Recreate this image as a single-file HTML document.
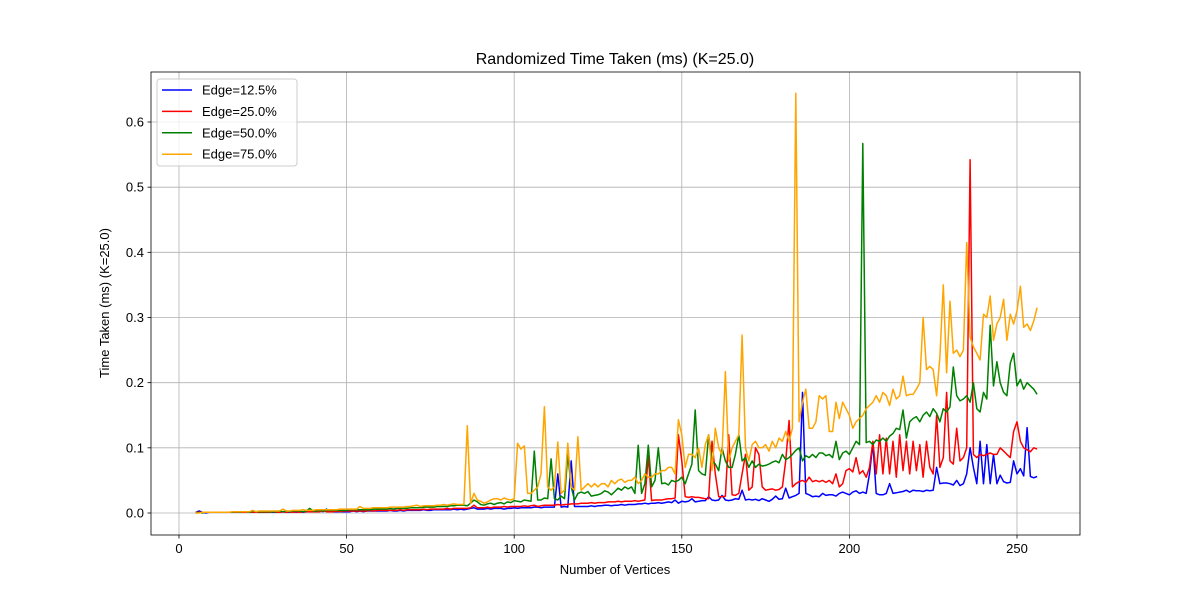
<!DOCTYPE html>
<html><head><meta charset="utf-8"><style>
body{margin:0;background:#fff}
svg{font-family:"Liberation Sans","DejaVu Sans",sans-serif}
</style></head><body>
<svg id="chart" width="1200" height="600" xmlns="http://www.w3.org/2000/svg">
<rect width="1200" height="600" fill="#fff"/>
<text x="615" y="64" text-anchor="middle" font-size="16">Randomized Time Taken (ms) (K=25.0)</text>
<g id="grid"></g><g id="series"></g><g id="axes"></g>
<text x="615" y="574" text-anchor="middle" font-size="13">Number of Vertices</text>
<text x="109" y="303" text-anchor="middle" font-size="13" transform="rotate(-90 109 303)">Time Taken (ms) (K=25.0)</text>
<g id="legend"></g>
</svg>
<script>
const xTicks=[0,50,100,150,200,250];
const yTicks=[0,0.1,0.2,0.3,0.4,0.5,0.6];
const yTickLabels=["0.0","0.1","0.2","0.3","0.4","0.5","0.6"];
const seriesNames=["Edge=12.5%","Edge=25.0%","Edge=50.0%","Edge=75.0%"];
const xStart=5;
const blue=[0.001,0.003,0.001,0.000,0.001,0.001,0.001,0.001,0.001,0.001,
0.001,0.001,0.001,0.001,0.001,0.002,0.001,0.002,0.001,0.001,
0.001,0.001,0.002,0.001,0.001,0.001,0.002,0.001,0.001,0.002,
0.001,0.002,0.001,0.002,0.002,0.002,0.002,0.003,0.002,0.006,
0.002,0.002,0.002,0.002,0.002,0.002,0.002,0.003,0.002,0.003,
0.002,0.003,0.003,0.003,0.003,0.003,0.003,0.003,0.004,0.003,
0.003,0.004,0.003,0.004,0.004,0.004,0.004,0.004,0.005,0.004,
0.004,0.005,0.005,0.005,0.005,0.005,0.005,0.006,0.005,0.006,
0.005,0.006,0.007,0.008,0.006,0.006,0.006,0.007,0.006,0.007,
0.007,0.007,0.006,0.007,0.007,0.008,0.007,0.008,0.008,0.008,
0.008,0.009,0.009,0.008,0.009,0.009,0.009,0.009,0.060,0.009,
0.010,0.009,0.080,0.010,0.010,0.010,0.010,0.010,0.011,0.010,
0.011,0.011,0.012,0.012,0.011,0.012,0.012,0.013,0.012,0.013,
0.013,0.013,0.014,0.014,0.015,0.014,0.015,0.015,0.016,0.015,
0.016,0.017,0.016,0.020,0.015,0.018,0.017,0.018,0.022,0.017,
0.018,0.019,0.019,0.025,0.020,0.019,0.020,0.027,0.020,0.019,
0.020,0.022,0.021,0.035,0.020,0.021,0.020,0.021,0.019,0.022,
0.020,0.018,0.021,0.026,0.021,0.022,0.038,0.023,0.025,0.027,
0.030,0.185,0.030,0.028,0.025,0.026,0.025,0.030,0.027,0.028,
0.028,0.026,0.030,0.032,0.030,0.028,0.032,0.034,0.030,0.032,
0.030,0.060,0.107,0.030,0.028,0.028,0.030,0.045,0.030,0.031,
0.032,0.033,0.035,0.032,0.035,0.034,0.034,0.033,0.035,0.034,
0.035,0.070,0.045,0.046,0.046,0.045,0.043,0.050,0.042,0.045,
0.060,0.100,0.070,0.045,0.110,0.045,0.105,0.045,0.090,0.045,
0.058,0.048,0.046,0.047,0.080,0.060,0.068,0.057,0.131,0.056,
0.054,0.056];
const red=[0.001,0.001,0.001,0.001,0.001,0.001,0.001,0.001,0.001,0.001,
0.001,0.001,0.001,0.001,0.001,0.001,0.002,0.001,0.001,0.001,
0.001,0.001,0.001,0.002,0.001,0.001,0.002,0.001,0.002,0.001,
0.002,0.001,0.002,0.002,0.002,0.002,0.002,0.002,0.003,0.002,
0.002,0.002,0.003,0.002,0.003,0.003,0.003,0.003,0.003,0.003,
0.003,0.003,0.004,0.003,0.004,0.004,0.004,0.004,0.004,0.004,
0.004,0.005,0.004,0.005,0.005,0.005,0.005,0.005,0.006,0.005,
0.006,0.006,0.006,0.006,0.006,0.007,0.006,0.007,0.007,0.007,
0.007,0.007,0.008,0.012,0.008,0.008,0.008,0.009,0.008,0.009,
0.009,0.009,0.010,0.009,0.010,0.010,0.010,0.010,0.011,0.010,
0.011,0.012,0.010,0.011,0.012,0.012,0.012,0.012,0.013,0.012,
0.013,0.013,0.014,0.014,0.014,0.015,0.015,0.015,0.016,0.015,
0.016,0.016,0.016,0.017,0.017,0.017,0.018,0.017,0.018,0.018,
0.018,0.019,0.018,0.019,0.020,0.088,0.019,0.020,0.020,0.020,
0.021,0.022,0.022,0.023,0.120,0.080,0.025,0.024,0.025,0.024,
0.024,0.023,0.022,0.022,0.110,0.060,0.025,0.025,0.026,0.120,
0.028,0.027,0.030,0.060,0.090,0.035,0.040,0.100,0.090,0.040,
0.035,0.036,0.037,0.035,0.036,0.040,0.080,0.142,0.040,0.045,
0.048,0.050,0.047,0.055,0.048,0.050,0.048,0.050,0.047,0.050,
0.045,0.060,0.040,0.045,0.065,0.068,0.063,0.085,0.060,0.065,
0.055,0.070,0.110,0.060,0.120,0.060,0.115,0.060,0.110,0.055,
0.120,0.065,0.110,0.060,0.110,0.065,0.105,0.055,0.110,0.070,
0.060,0.150,0.070,0.085,0.185,0.080,0.075,0.130,0.080,0.085,
0.100,0.542,0.090,0.085,0.090,0.088,0.090,0.092,0.090,0.090,
0.100,0.095,0.090,0.085,0.125,0.140,0.110,0.100,0.097,0.094,
0.100,0.098];
const green=[0.000,0.001,0.000,0.001,0.001,0.001,0.001,0.001,0.001,0.001,
0.001,0.001,0.002,0.001,0.002,0.002,0.001,0.003,0.002,0.002,
0.002,0.002,0.002,0.002,0.002,0.003,0.002,0.003,0.002,0.003,
0.003,0.003,0.002,0.003,0.007,0.003,0.003,0.004,0.003,0.004,
0.004,0.004,0.004,0.004,0.004,0.004,0.005,0.005,0.005,0.005,
0.005,0.005,0.005,0.006,0.006,0.006,0.006,0.006,0.007,0.006,
0.007,0.007,0.007,0.007,0.008,0.008,0.008,0.008,0.009,0.009,
0.009,0.009,0.010,0.010,0.010,0.010,0.011,0.011,0.012,0.012,
0.012,0.011,0.015,0.020,0.017,0.013,0.012,0.014,0.015,0.013,
0.015,0.016,0.014,0.017,0.016,0.019,0.018,0.017,0.020,0.019,
0.018,0.095,0.020,0.020,0.023,0.022,0.083,0.022,0.020,0.026,
0.022,0.090,0.040,0.020,0.030,0.032,0.030,0.033,0.026,0.027,
0.028,0.030,0.034,0.032,0.028,0.033,0.038,0.035,0.040,0.037,
0.040,0.030,0.104,0.030,0.045,0.104,0.040,0.050,0.100,0.045,
0.046,0.043,0.050,0.048,0.050,0.055,0.045,0.060,0.075,0.158,
0.065,0.060,0.058,0.120,0.080,0.075,0.065,0.100,0.080,0.070,
0.070,0.090,0.120,0.080,0.085,0.070,0.080,0.070,0.075,0.072,
0.073,0.075,0.078,0.080,0.077,0.090,0.082,0.085,0.090,0.096,
0.100,0.080,0.088,0.085,0.090,0.085,0.092,0.092,0.088,0.090,
0.085,0.110,0.082,0.092,0.095,0.090,0.100,0.110,0.105,0.567,
0.108,0.110,0.105,0.112,0.110,0.115,0.110,0.118,0.122,0.130,
0.128,0.158,0.115,0.140,0.145,0.148,0.140,0.150,0.155,0.148,
0.160,0.153,0.140,0.160,0.155,0.163,0.224,0.180,0.172,0.175,
0.180,0.170,0.200,0.160,0.155,0.185,0.175,0.288,0.195,0.232,
0.200,0.185,0.180,0.230,0.245,0.195,0.205,0.190,0.200,0.195,
0.190,0.182];
const orange=[0.000,0.000,0.001,0.001,0.001,0.001,0.001,0.001,0.001,0.001,
0.001,0.002,0.002,0.002,0.002,0.002,0.002,0.004,0.002,0.003,
0.003,0.003,0.003,0.003,0.003,0.003,0.006,0.003,0.003,0.004,
0.004,0.004,0.005,0.004,0.004,0.004,0.005,0.005,0.005,0.005,
0.005,0.005,0.005,0.006,0.006,0.006,0.006,0.006,0.006,0.010,
0.007,0.007,0.007,0.008,0.008,0.008,0.008,0.008,0.009,0.009,
0.009,0.009,0.009,0.010,0.010,0.011,0.012,0.010,0.011,0.011,
0.011,0.011,0.012,0.012,0.013,0.012,0.013,0.014,0.013,0.013,
0.013,0.134,0.015,0.030,0.020,0.018,0.015,0.017,0.020,0.022,
0.022,0.020,0.023,0.021,0.020,0.022,0.107,0.098,0.103,0.030,
0.030,0.035,0.040,0.060,0.163,0.040,0.035,0.040,0.109,0.030,
0.035,0.107,0.040,0.035,0.117,0.035,0.040,0.045,0.040,0.045,
0.040,0.045,0.045,0.040,0.050,0.045,0.050,0.052,0.047,0.050,
0.050,0.055,0.045,0.050,0.060,0.055,0.055,0.060,0.060,0.065,
0.065,0.070,0.070,0.060,0.143,0.120,0.070,0.090,0.090,0.085,
0.100,0.070,0.105,0.120,0.065,0.130,0.100,0.090,0.217,0.080,
0.100,0.110,0.120,0.273,0.100,0.080,0.105,0.110,0.100,0.100,
0.105,0.095,0.110,0.100,0.115,0.110,0.125,0.110,0.130,0.644,
0.140,0.170,0.190,0.130,0.130,0.140,0.180,0.175,0.180,0.125,
0.125,0.170,0.145,0.170,0.160,0.150,0.130,0.140,0.145,0.150,
0.160,0.165,0.170,0.180,0.170,0.185,0.180,0.165,0.190,0.175,
0.180,0.210,0.180,0.182,0.182,0.190,0.200,0.300,0.220,0.225,
0.220,0.180,0.240,0.350,0.215,0.325,0.245,0.250,0.240,0.250,
0.415,0.270,0.255,0.245,0.235,0.305,0.300,0.333,0.265,0.290,
0.300,0.328,0.265,0.305,0.290,0.310,0.348,0.285,0.290,0.280,
0.295,0.315];
const NS="http://www.w3.org/2000/svg";
const L=151,R=1080,T=72,B=535;
function xs(v){return 179+v*(1017-179)/250;}
function ys(v){return 513-v*(513-122)/0.6;}
function mk(tag,attrs,parent){const e=document.createElementNS(NS,tag);for(const k in attrs)e.setAttribute(k,attrs[k]);parent.appendChild(e);return e;}
const grid=document.getElementById('grid'),axes=document.getElementById('axes'),ser=document.getElementById('series'),leg=document.getElementById('legend');
xTicks.forEach(t=>{const x=xs(t);
 const g=mk('line',{x1:x,x2:x,y1:T,y2:B,stroke:'#b0b0b0','stroke-width':0.8},grid);
 
 
 const tk=mk('line',{x1:x,x2:x,y1:B,y2:B+3.5,stroke:'#000','stroke-width':0.8},axes);
 
 
 const tx=mk('text',{x:x,y:B+18,'text-anchor':'middle','font-size':13},axes);tx.textContent=t;
 
 
});
yTicks.forEach((t,i)=>{const y=ys(t);
 const g=mk('line',{x1:L,x2:R,y1:y,y2:y,stroke:'#b0b0b0','stroke-width':0.8},grid);
 
 
 const tk=mk('line',{x1:L-3.5,x2:L,y1:y,y2:y,stroke:'#000','stroke-width':0.8},axes);
 
 
 const tx=mk('text',{x:L-7,y:y+4.5,'text-anchor':'end','font-size':13},axes);tx.textContent=yTickLabels[i];
 
 
});
const frame=mk('rect',{x:L,y:T,width:R-L,height:B-T,fill:'none',stroke:'#000','stroke-width':0.8},axes);


const all=[blue,red,green,orange],cols=['#0000ff','#ff0000','#008000','#ffa500'],names=['series-edge-12-5','series-edge-25','series-edge-50','series-edge-75'];
all.forEach((d,si)=>{const pts=d.map((v,i)=>xs(xStart+i).toFixed(1)+','+ys(v).toFixed(1)).join(' ');
 const p=mk('polyline',{points:pts,fill:'none',stroke:cols[si],'stroke-width':1.5,'stroke-linejoin':'round'},ser);
 
 
});
const lb=mk('rect',{x:157,y:79,width:140,height:87,rx:3,fill:'#fff','fill-opacity':0.8,stroke:'#cccccc','stroke-width':1},leg);


seriesNames.forEach((n,i)=>{const y=90+i*21.4;
 const l=mk('line',{x1:162,x2:192,y1:y,y2:y,stroke:cols[i],'stroke-width':1.5},leg);
 
 
 const t=mk('text',{x:202,y:y+4.5,'font-size':13},leg);t.textContent=n;
 
 
});
</script>
</body></html>
